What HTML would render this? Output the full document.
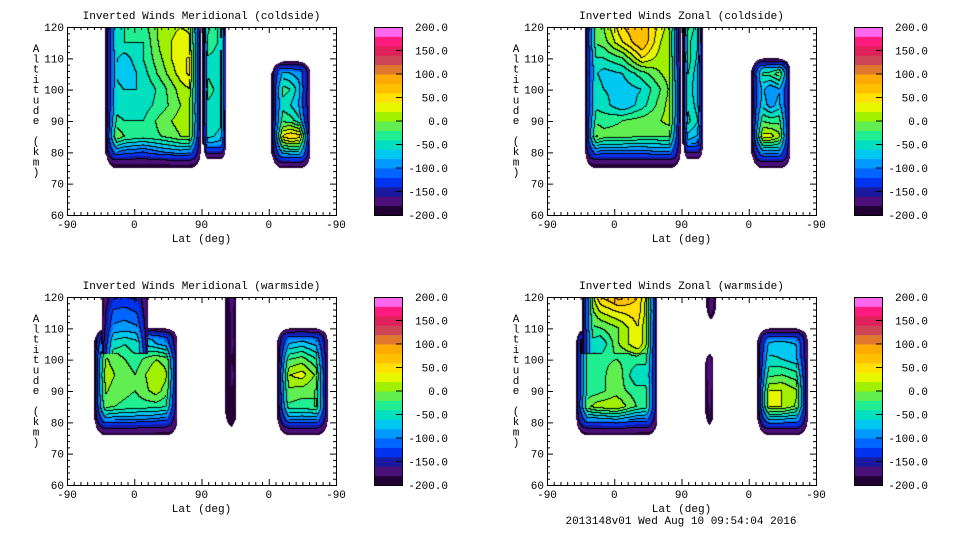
<!DOCTYPE html>
<html><head><meta charset="utf-8">
<style>
html,body{margin:0;padding:0;background:#fff;}
#wrap{position:relative;width:960px;height:540px;overflow:hidden;background:#fff;}
canvas{position:absolute;}
svg{position:absolute;left:0;top:0;}
text{font-family:"Liberation Mono",monospace;font-size:11px;fill:#000;}
</style></head>
<body>
<div id="wrap">
<canvas id="c0"></canvas>
<canvas id="c1"></canvas>
<canvas id="c2"></canvas>
<canvas id="c3"></canvas>
<svg id="ov" width="960" height="540"></svg>
</div>
<script>
// ---- colour levels ----
const levelMin = -200, levelStep = 20;
const levelColors = ["#220033","#4b0f7a","#1a1aa0","#0033ee","#0066ff","#0099ff","#00c8f0","#00e0c0","#20ee90","#60ee50","#a0f000","#e6f700","#ffe000","#ffc000","#ffaa00","#e07830","#cc4455","#e0205a","#ff1a80","#ff66ee"];
const colorbarLabels = ["200.0","150.0","100.0","50.0","0.0","-50.0","-100.0","-150.0","-200.0"];
const xTickLabels = ["-90","0","90","0","-90"];
const yTickLabels = ["120","110","100","90","80","70","60"];
const panelTitles = ["Inverted Winds Meridional (coldside)","Inverted Winds Zonal (coldside)","Inverted Winds Meridional (warmside)","Inverted Winds Zonal (warmside)"];

// ---- data: blocks of wind values, rows from top altitude down in 5 km steps ----
const p1A = [[-60,-40,-30,10,20,10],[-50,-40,-40,10,30,20],[-40,-70,-40,0,40,40],[-40,-80,-50,-10,30,60],[-40,-60,-60,-30,10,30],[-40,-60,-50,-30,0,20],[-20,-40,-40,-10,10,20],[20,-20,-30,-20,0,10],[-80,-110,-120,-100,-90,-100],[-180,-180,-180,-180,-180,-180]];
const p1B = [[0,-60],[-20,-50],[-40,-50],[-40,-50],[-30,-50],[-40,-50],[-40,-60],[-50,-70],[-110,-120],[-180,-180]];
const p1C = [[-120,-120,-130],[-60,-80,-100],[-20,-40,-110],[-30,-60,-110],[-20,-30,-80],[20,60,40],[-80,-60,-60],[-150,-150,-150]];
const p2A = [[-40,0,60,80,30,-10],[-30,-10,40,80,20,-20],[-40,-40,-20,40,10,0],[-40,-70,-60,-30,0,20],[-20,-60,-70,-60,-20,30],[-40,-50,-80,-50,-10,30],[-20,-30,-20,-10,0,20],[20,-10,-10,-20,-20,-20],[-90,-110,-110,-110,-100,-100],[-180,-180,-180,-180,-180,-180]];
const p2B = [[-10,-60],[-20,-70],[-10,-80],[-20,-90],[-30,-90],[-30,-80],[-20,-70],[-60,-90],[-120,-130],[-180,-180]];
const p2C = [[-130,-130,-120],[-40,-30,20],[-40,-100,-60],[-30,-90,-50],[-10,-30,-20],[30,30,-20],[-90,-90,-90],[-150,-150,-150]];
const p3A2 = [[-110,-90,-80,-100,-150],[-60,-30,-50,-80,-110],[20,-10,-30,0,-20],[30,0,-20,20,-10],[20,-10,-20,10,-30],[0,-20,-30,-30,-50],[-100,-110,-110,-120,-130],[-170,-170,-170,-170,-170]];
const p3A1 = [[-150,-140,-150],[-150,-140,-150],[-120,-110,-130],[-100,-90,-100],[-60,-40,-60],[-10,-30,-40]];
const p3B = [[-170,-150],[-180,-160],[-180,-160],[-190,-150],[-190,-160],[-190,-150],[-190,-160],[-190,-170],[-190,-180],[-190,-190]];
const p3C = [[-140,-130,-140],[-90,-70,-100],[-30,-10,-60],[10,30,-30],[0,-10,-30],[-20,-30,-10],[-110,-110,-110],[-170,-170,-170]];
const p4A1 = [[-50,60,80,50,-40],[-50,60,90,60,-40],[-40,20,40,50,-30],[-30,-20,0,40,-40],[-30,-60,0,40,-40],[-40,-30,-20,-20,-40]];
const p4A2 = [[-80,-30,-20,0,-60],[-50,-40,-60,20,-50],[-40,-30,-20,-30,-40],[-30,-40,0,-60,-40],[-40,-30,-10,-30,-40],[-30,10,20,-20,-40],[-110,-110,-100,-120,-120],[-170,-170,-170,-170,-170]];
const p4B1 = [[-140,-150],[-150,-150],[-160,-160]];
const p4B2 = [[-150,-140],[-140,-150],[-140,-140],[-150,-150],[-160,-160],[-170,-170]];
const p4C = [[-140,-140,-140],[-80,-70,-90],[-50,-60,-80],[-30,-20,-40],[20,20,-10],[20,20,-20],[-100,-100,-110],[-170,-170,-170]];

const panels = [
 {L:67,T:27,blocks:[
  {u0:52,u1:178,a0:75,a1:126,top:120,v:p1A},
  {u0:182,u1:212,a0:78,a1:126,top:120,v:p1B,rs:5},
  {u0:274,u1:325,a0:75,a1:109,top:110,v:p1C}]},
 {L:547,T:27,blocks:[
  {u0:51,u1:178,a0:75,a1:126,top:120,v:p2A},
  {u0:182,u1:208,a0:78,a1:126,top:120,v:p2B,rs:5},
  {u0:274,u1:325,a0:75,a1:110,top:110,v:p2C}]},
 {L:67,T:297,blocks:[
  {u0:37,u1:147,a0:76,a1:110,top:110,v:p3A2},
  {u0:47,u1:108,a0:102,a1:126,top:125,v:p3A1,noBottom:true},
  {u0:212,u1:226,a0:78,a1:126,top:120,v:p3B},
  {u0:282,u1:348,a0:76,a1:110,top:110,v:p3C}]},
 {L:547,T:297,blocks:[
  {u0:39,u1:147,a0:76,a1:110,top:110,v:p4A2},
  {u0:47,u1:147,a0:102,a1:126,top:125,v:p4A1,noBottom:true},
  {u0:213,u1:225,a0:112,a1:126,top:125,v:p4B1},
  {u0:212,u1:222,a0:78,a1:103,top:105,v:p4B2},
  {u0:282,u1:348,a0:76,a1:110,top:110,v:p4C}]}
];

const W=269,H=188;
function xScale(u){return u/360*W;}
function yScale(a){return (120-a)/60*H;}
function hex(c){return [parseInt(c.substr(1,2),16),parseInt(c.substr(3,2),16),parseInt(c.substr(5,2),16)];}
const rgb = levelColors.map(hex);

function sample(b,u,a){
  const g=b.v, nr=g.length, nc=g[0].length;
  let r=(b.top-a)/5; r=Math.max(0,Math.min(nr-1,r));
  let c=(u-b.u0)/(b.u1-b.u0)*(nc-1); c=Math.max(0,Math.min(nc-1,c));
  const r0=Math.floor(r), c0=Math.floor(c), r1=Math.min(nr-1,r0+1), c1=Math.min(nc-1,c0+1);
  const fr=r-r0, fc=c-c0;
  const top=g[r0][c0]*(1-fc)+g[r0][c1]*fc, bot=g[r1][c0]*(1-fc)+g[r1][c1]*fc;
  return top*(1-fr)+bot*fr;
}

panels.forEach((p,pi)=>{
  const cv=document.getElementById('c'+pi);
  cv.width=W; cv.height=H; cv.style.left=p.L+'px'; cv.style.top=p.T+'px';
  const ctx=cv.getContext('2d');
  const lev=new Int8Array(W*H).fill(-1);
  const rim=new Uint8Array(W*H);
  const Rb=15;
  p.blocks.forEach(b=>{
    const Rs=b.rs||11;
    const x0=xScale(b.u0), x1=xScale(b.u1), y0=yScale(b.a1), y1=yScale(b.a0);
    for(let y=Math.max(0,Math.floor(y0));y<Math.min(H,Math.ceil(y1));y++){
      for(let x=Math.max(0,Math.floor(x0));x<Math.min(W,Math.ceil(x1));x++){
        const dl=x-x0, dr=x1-x, dt=y-y0, db=y1-y;
        const nx=Math.min(dl,dr)/Rs;
        let ny;
        if(b.noBottom) ny=99;
        else if(b.a1>120) ny=db/Rb;
        else ny=Math.min(dt/Rs,db/Rb);
        let n;
        if(nx<1 && ny<1){n=1-Math.sqrt((1-nx)*(1-nx)+(1-ny)*(1-ny)); if(n<0) continue;}
        else n=Math.min(nx,ny,1);
        const u=(x+0.5)/W*360, a=120-(y+0.5)/H*60;
        let v=sample(b,u,a);
        if(n<1) v=-190+(v+190)*Math.pow(n,0.8);
        let li=Math.floor((v-levelMin)/levelStep);
        li=Math.max(0,Math.min(19,li));
        lev[y*W+x]=li;
        rim[y*W+x]=n<1?1:0;
      }
    }
  });
  const img=ctx.createImageData(W,H);
  for(let y=0;y<H;y++)for(let x=0;x<W;x++){
    const i=y*W+x, l=lev[i], o=i*4;
    if(l<0){img.data[o]=255;img.data[o+1]=255;img.data[o+2]=255;img.data[o+3]=255;continue;}
    let line=false;
    const ok=(j)=>lev[j]>=0 && lev[j]!==l && (!rim[i] || Math.max(l,lev[j])%2===0);
    if(x+1<W && ok(i+1)) line=true;
    if(y+1<H && ok(i+W)) line=true;
    const c=line?[0,0,0]:rgb[l];
    img.data[o]=c[0];img.data[o+1]=c[1];img.data[o+2]=c[2];img.data[o+3]=255;
  }
  ctx.putImageData(img,0,0);
});

// ---- axes overlay ----
const svg=document.getElementById('ov');
const NS='http://www.w3.org/2000/svg';
function mk(tag,attrs,parent,txt){const e=document.createElementNS(NS,tag);for(const k in attrs)e.setAttribute(k,attrs[k]);if(txt!==undefined)e.textContent=txt;(parent||svg).appendChild(e);return e;}

panels.forEach((p,pi)=>{
  const g=mk('g',{});
  
  
  const fr=mk('rect',{x:p.L+0.5,y:p.T+0.5,width:W,height:H,fill:'none',stroke:'#000','stroke-width':1},g);
  
  
  let d='';
  for(let u=0;u<=360;u+=9){const x=p.L+0.5+xScale(u);const len=(u%90===0)?6:3;d+=`M${x},${p.T+H}v${-len}M${x},${p.T}v${len}`;}
  for(let a=60;a<=120;a+=2){const y=p.T+0.5+yScale(a);const len=(a%10===0)?6:3;d+=`M${p.L},${y}h${len}M${p.L+W},${y}h${-len}`;}
  const tk=mk('path',{d:d,stroke:'#000','stroke-width':1,fill:'none'},g);
  
  
  xTickLabels.forEach((t,i)=>{const e=mk('text',{x:p.L+xScale(i*90),y:p.T+H+13,'text-anchor':'middle'},g,t);
    
    });
  yTickLabels.forEach((t,i)=>{const e=mk('text',{x:p.L-3,y:p.T+yScale(120-i*10)+4,'text-anchor':'end'},g,t);
    
    });
  const ti=mk('text',{x:p.L+W/2,y:p.T-8,'text-anchor':'middle'},g,panelTitles[pi]);
  
  
  const xl=mk('text',{x:p.L+W/2,y:p.T+H+27,'text-anchor':'middle'},g,'Lat (deg)');
  
  
  const chars='Altitude (km)';
  const yl=mk('text',{'text-anchor':'middle'},g);
  
  
  for(let i=0;i<chars.length;i++){mk('tspan',{x:p.L-31,y:p.T+25+i*10.3},yl,chars[i]);}
  const cx=p.L+307, cw=28;
  const cb=mk('g',{},g);
  
  
  levelColors.forEach((c,i)=>{const r=mk('rect',{x:cx,y:p.T+H-(i+1)*H/20,width:cw,height:H/20+0.5,fill:c},cb);
    
    });
  mk('rect',{x:cx+0.5,y:p.T+0.5,width:cw,height:H,fill:'none',stroke:'#000'},cb);
  let cd='';
  colorbarLabels.forEach((t,i)=>{const y=p.T+i*H/8;
    if(i>0&&i<8) cd+=`M${cx+cw},${y}h-6`;
    const e=mk('text',{x:cx+74,y:y+4,'text-anchor':'end'},cb,t);
    
    });
  mk('path',{d:cd,stroke:'#000'},cb);
});
const ft=mk('text',{x:681,y:524,'text-anchor':'middle'},svg,'2013148v01 Wed Aug 10 09:54:04 2016');


</script>
</body></html>
